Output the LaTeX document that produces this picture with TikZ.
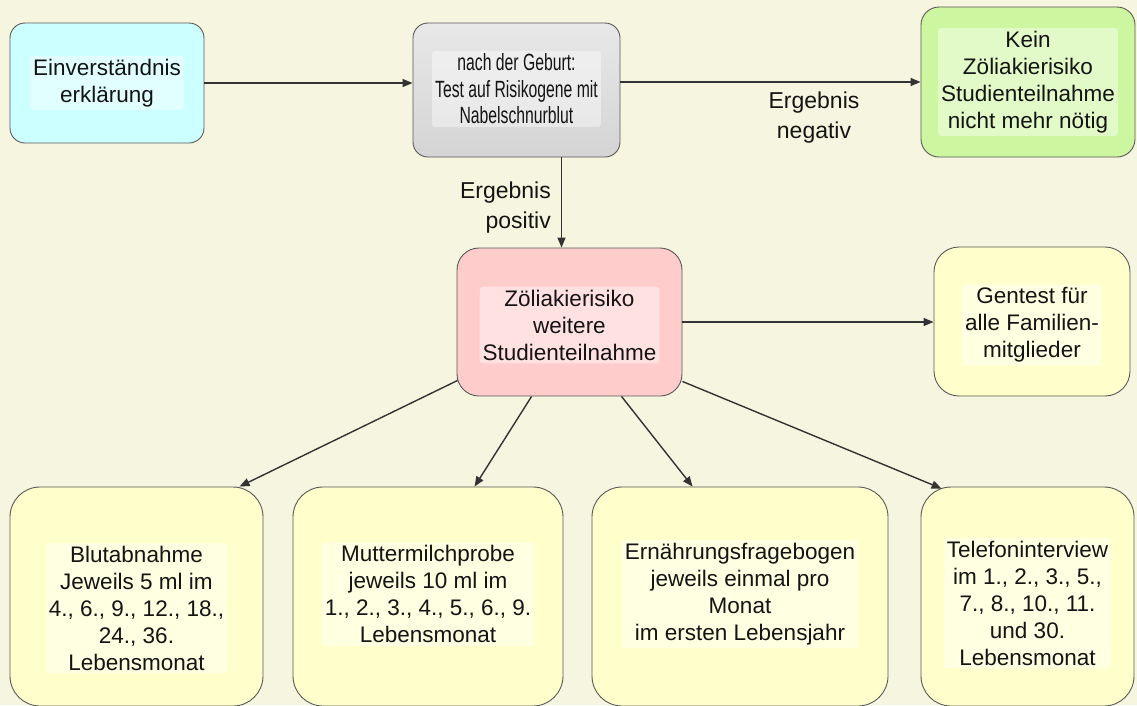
\documentclass[tikz,border=0pt]{standalone}
\usepackage{fontspec}
\setmainfont{Liberation Sans}
\newfontfamily\narrowsans{Liberation Sans}[FakeStretch=0.67]
\usetikzlibrary{arrows.meta,calc}
\definecolor{bg}{HTML}{F6F5DF}
\definecolor{cyanbox}{HTML}{CCFFFF}
\definecolor{greenbox}{HTML}{CCF7A0}
\definecolor{pinkbox}{HTML}{FFCCCC}
\definecolor{yellowbox}{HTML}{FFFFCC}
\definecolor{greytop}{HTML}{E8E8E8}
\definecolor{greybot}{HTML}{D4D4D4}
\newcommand{\myfs}{\fontsize{22.5}{27}\selectfont}
\newcommand{\mynfs}{\fontsize{23.5}{26.5}\selectfont}
\newcommand{\mylfs}{\fontsize{23}{30}\selectfont}
\tikzset{
  box/.style={draw=black!65, line width=0.9pt, rounded corners=#1, inner sep=0pt},
  box/.default=15pt,
  txt/.style={font=\myfs, align=center, text=black!92, fill=white, fill opacity=0.42, text opacity=1, inner sep=3pt, rounded corners=3pt},
  lbl/.style={font=\mylfs, text=black!92, inner sep=0pt},
  arr/.style={draw=black!80, line width=1.4pt, -{Triangle[length=10pt,width=8pt]}}
}
\begin{document}
\begin{tikzpicture}[x=1pt,y=-1pt]
\fill[bg] (0,0) rectangle (1137,705);
\useasboundingbox (0,0) rectangle (1137,705);

% boxes
\node[box=15pt, fill=cyanbox, minimum width=194pt, minimum height=120pt] (b1) at (107,83) {};
\node[box=15pt, top color=greytop, bottom color=greybot, minimum width=207pt, minimum height=134pt] (grey) at (516.5,90) {};
\node[box=18pt, fill=greenbox, minimum width=214pt, minimum height=150pt] (green) at (1028,82) {};
\node[box=22pt, fill=pinkbox, minimum width=225pt, minimum height=148pt] (pink) at (569.5,322) {};
\node[box=25pt, fill=yellowbox, minimum width=196pt, minimum height=149pt] (gen) at (1032,321.5) {};
\node[box=30pt, fill=yellowbox, minimum width=253pt, minimum height=219pt] (ba) at (136.5,596.5) {};
\node[box=30pt, fill=yellowbox, minimum width=270pt, minimum height=219pt] (bb) at (428,596.5) {};
\node[box=30pt, fill=yellowbox, minimum width=296pt, minimum height=219pt] (bc) at (740,596.5) {};
\node[box=30pt, fill=yellowbox, minimum width=213pt, minimum height=219pt] (bd) at (1027.5,596.5) {};

% texts
\node[txt] (t1) at (b1.center) {Einverständnis\\erklärung};
\node[txt, font=\mynfs\narrowsans] (t2) at (516.5,89) {nach der Geburt:\\Test auf Risikogene mit\\Nabelschnurblut};
\node[txt] (t3) at (green.center) {Kein\\Zöliakierisiko\\Studienteilnahme\\nicht mehr nötig};
\node[txt] (t4) at (569.5,325) {Zöliakierisiko\\weitere\\Studienteilnahme};
\node[txt] (t5) at (1032,325) {Gentest für\\alle Familien-\\mitglieder};
\node[txt] (ta) at (136.5,608) {Blutabnahme\\Jeweils 5 ml im\\4., 6., 9., 12., 18.,\\24., 36.\\Lebensmonat};
\node[txt] (tb) at (428,594) {Muttermilchprobe\\jeweils 10 ml im\\1., 2., 3., 4., 5., 6., 9.\\Lebensmonat};
\node[txt] (tc) at (740,594) {Ernährungsfragebogen\\jeweils einmal pro\\Monat\\im ersten Lebensjahr};
\node[txt] (td) at (1027.5,603) {Telefoninterview\\im 1., 2., 3., 5.,\\7., 8., 10., 11.\\und 30.\\Lebensmonat};

% connectors
\draw[arr] (b1.east) -- (b1.east -| grey.west);
\draw[arr] (grey.east |- green.west) -- (green.west);
\draw[arr] ([xshift=-8pt]pink.north |- grey.south) -- ([xshift=-8pt]pink.north);
\draw[arr] (pink.east) -- (pink.east -| gen.west);
\draw[arr] ($(pink.south west)+(1,-16)$) -- ($(ba.north west)+(230,0)$);
\draw[arr] ($(pink.south west)+(75,0)$) -- ($(bb.north west)+(182,0)$);
\draw[arr] ($(pink.south west)+(165,0)$) -- ($(bc.north west)+(101,0)$);
\draw[arr] ($(pink.south east)+(0,-15)$) -- ($(bd.north west)+(21,2)$);

% labels
\node[lbl, align=center] (neg) at (814,118) {Ergebnis\\negativ};
\node[lbl, align=right, anchor=east] (pos) at (551,208) {Ergebnis\\positiv};
\end{tikzpicture}
\end{document}
